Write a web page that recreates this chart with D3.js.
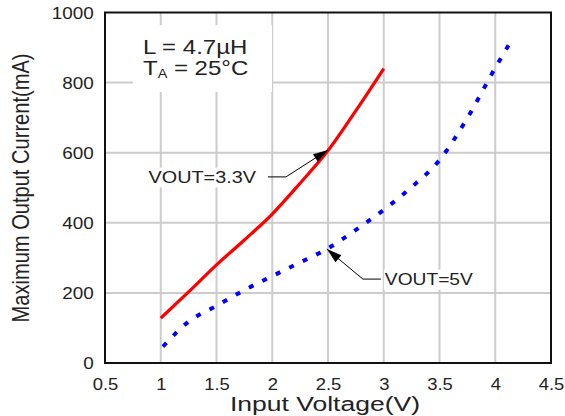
<!DOCTYPE html>
<html>
<head>
<meta charset="utf-8">
<script src="https://cdn.jsdelivr.net/npm/d3@7"></script>
<style>
html,body{margin:0;padding:0;background:#fff;}
svg{display:block;}
text{font-family:"Liberation Sans",Arial,sans-serif;fill:#222;}
</style>
</head>
<body>
<svg id="chart" width="565" height="416"></svg>
<script>
// ---- data ----
const xTicks = [0.5, 1, 1.5, 2, 2.5, 3, 3.5, 4, 4.5];
const yTicks = [0, 200, 400, 600, 800, 1000];
const xTickLabels = ["0.5", "1", "1.5", "2", "2.5", "3", "3.5", "4", "4.5"];
const vin33 = [1.0, 1.25, 1.5, 1.75, 2.0, 2.25, 2.5, 2.75, 3.0];
const iout33 = [128, 203, 280, 351, 425, 513, 606, 720, 840];
const vin5 = [1.02, 1.25, 1.5, 1.75, 2.0, 2.25, 2.5, 2.75, 3.0, 3.25, 3.5, 3.75, 4.0, 4.13];
const iout5 = [47, 118, 163, 208, 248, 287, 327, 380, 437, 502, 579, 699, 842, 912];
const seriesNames = ["VOUT=3.3V", "VOUT=5V"];
const xTitle = "Input Voltage(V)";
const yTitle = "Maximum Output Current(mA)";

// ---- layout ----
const svg = d3.select("#chart");
const M = {left:105, top:12.5, right:551, bottom:363};
const x = d3.scaleLinear().domain([0.5, 4.5]).range([M.left, M.right]);
const y = d3.scaleLinear().domain([0, 1000]).range([M.bottom, M.top]);

// grid
const grid = svg.append("g");
grid.selectAll("line.v").data(xTicks.slice(1, -1)).enter().append("line")
  .attr("x1", d => x(d)).attr("x2", d => x(d))
  .attr("y1", y(1000)).attr("y2", y(0))
  .attr("stroke", "#cccccc").attr("stroke-width", 2);
grid.selectAll("line.h").data(yTicks.slice(1, -1)).enter().append("line")
  .attr("x1", x(0.5)).attr("x2", x(4.5))
  .attr("y1", d => y(d)).attr("y2", d => y(d))
  .attr("stroke", "#cccccc").attr("stroke-width", 2);

// axes labels
const xAxis = d3.axisBottom(x).tickValues(xTicks).tickSize(0)
  .tickFormat((d, i) => xTickLabels[i]);
const gx = svg.append("g").attr("transform", `translate(0,${M.bottom})`).call(xAxis);
gx.select(".domain").remove();
gx.selectAll("text").attr("y", 0).attr("dy", 27).attr("font-size", 16)
  .attr("font-family", "Liberation Sans, Arial, sans-serif").attr("fill", "#222")
  .attr("transform", "scale(1.15,1)");

const yAxis = d3.axisLeft(y).tickValues(yTicks).tickSize(0).tickFormat(d3.format("d"));
const gy = svg.append("g").attr("transform", `translate(${M.left},0)`).call(yAxis);
gy.select(".domain").remove();
gy.selectAll("text").attr("x", -9.5).attr("dy", "0.36em").attr("font-size", 16)
  .attr("font-family", "Liberation Sans, Arial, sans-serif").attr("fill", "#222")
  .attr("transform", "scale(1.18,1)");

// frame
svg.append("rect").attr("x", x(0.5)).attr("y", y(1000))
  .attr("width", x(4.5) - x(0.5)).attr("height", y(0) - y(1000))
  .attr("fill", "none").attr("stroke", "#111").attr("stroke-width", 2);

// curves
const line = d3.line().x(d => x(d[0])).y(d => y(d[1])).curve(d3.curveMonotoneX);
svg.append("path").datum(vin33.map((v, i) => [v, iout33[i]]))
  .attr("d", line).attr("fill", "none").attr("stroke", "#ff0000").attr("stroke-width", 3.2);
svg.append("path").datum(vin5.map((v, i) => [v, iout5[i]]))
  .attr("d", line).attr("fill", "none").attr("stroke", "#0000ff").attr("stroke-width", 4)
  .attr("stroke-dasharray", "5,10");

// annotation box
const ann = svg.append("g");
ann.append("rect").attr("x", 133).attr("y", 25).attr("width", 139).attr("height", 67).attr("fill", "#fff");
const annT = ann.append("g").attr("transform", "translate(143,0) scale(1.2,1)");
annT.append("text").attr("x", 0).attr("y", 54).attr("font-size", 20).text("L = 4.7µH");
const t2 = annT.append("text").attr("x", 0).attr("y", 75).attr("font-size", 20);
t2.append("tspan").text("T");
t2.append("tspan").attr("font-size", 12).attr("dy", 3).text("A");
t2.append("tspan").attr("dy", -3).text(" = 25°C");

// series callouts
function callout(tipX, tipY, elbowDx, elbowDy, hLen, label, side, gap, sx) {
  const tx = x(tipX), ty = y(tipY);
  const ex = tx + elbowDx, ey = ty + elbowDy;
  const hx = side === "left" ? ex - hLen : ex + hLen;
  const g = svg.append("g");
  const text = g.append("text").attr("font-size", 16)
    .attr("y", ey + 6).text(label);
  const ax = side === "left" ? hx - gap : hx + gap;
  text.attr("text-anchor", side === "left" ? "end" : "start").attr("x", ax)
      .attr("transform-origin", `${ax} ${ey}`)
      .attr("transform", `scale(${sx},1)`);
  const bb = text.node().getBBox();
  const w = bb.width * sx;
  const bx = side === "left" ? ax - w : ax;
  g.insert("rect", "text").attr("x", bx - 1).attr("y", bb.y - 1)
    .attr("width", w + 2).attr("height", bb.height + 2).attr("fill", "#fff");
  g.append("path").attr("d", `M${hx},${ey}L${ex},${ey}L${tx},${ty}`)
    .attr("fill", "none").attr("stroke", "#000").attr("stroke-width", 1);
  const ang = Math.atan2(ty - ey, tx - ex);
  const L = 15, W = 4.5;
  const bxp = tx - L * Math.cos(ang), byp = ty - L * Math.sin(ang);
  const px = -Math.sin(ang) * W, py = Math.cos(ang) * W;
  g.append("path").attr("d", `M${tx},${ty}L${bxp + px},${byp + py}L${bxp - px},${byp - py}Z`)
    .attr("fill", "#000");
}
callout(2.5, 608, -42, 27, 18, seriesNames[0], "left", 12, 1.24);
callout(2.49, 325, 36, 30, 18, seriesNames[1], "right", 4, 1.2);

// titles
svg.append("text").attr("x", 325).attr("y", 411).attr("text-anchor", "middle")
  .attr("font-size", 20).attr("textLength", 190).attr("lengthAdjust", "spacingAndGlyphs")
  .text(xTitle);
svg.append("text").attr("transform", "translate(29,188) scale(1.2,1) rotate(-90)")
  .attr("text-anchor", "middle").attr("font-size", 20)
  .attr("textLength", 269).attr("lengthAdjust", "spacingAndGlyphs")
  .text(yTitle);
</script>
</body>
</html>
